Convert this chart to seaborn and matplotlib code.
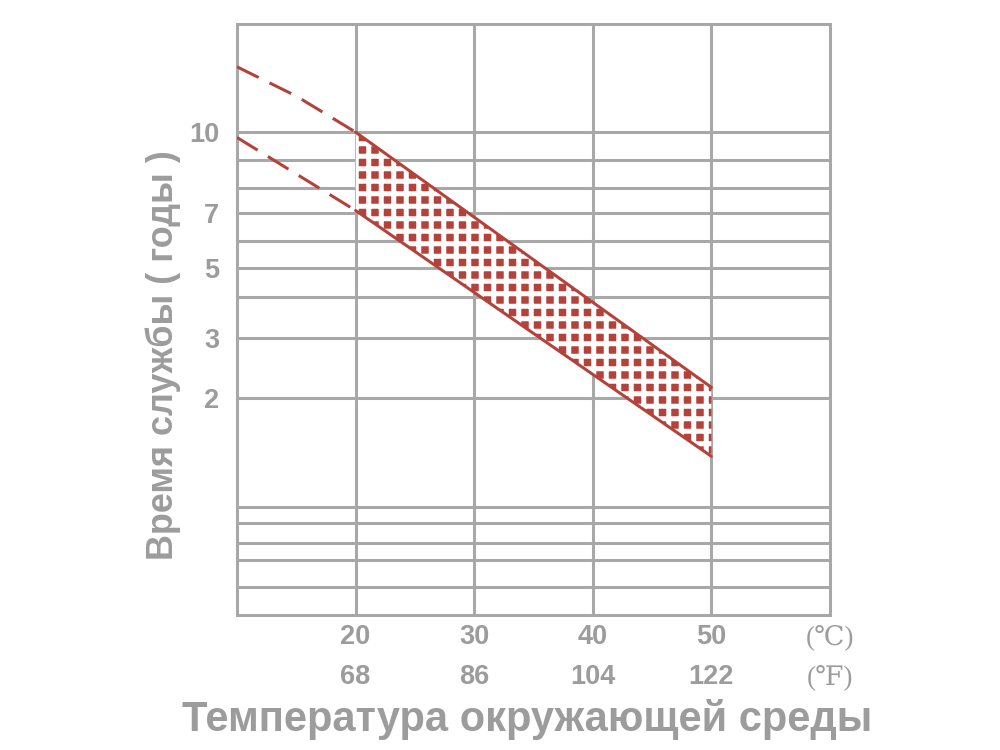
import numpy as np
import pandas as pd
import matplotlib
matplotlib.use("Agg")
import matplotlib.pyplot as plt
import seaborn as sns

# temperature ticks (deg C) and the matching deg F labels
temp_c = [20, 30, 40, 50]
temp_f = [68, 86, 104, 122]

# service life band (years), solid part between 20 and 50 C
band_temp = [20, 50]
band_upper = [10, 2.15]
band_lower = [7.1, 1.38]

# dashed extrapolation below 20 C
dash_upper_temp = [10, 15, 20]
dash_upper = [15.2, 12.6, 10]
dash_lower_temp = [10, 20]
dash_lower = [9.8, 7.1]

# horizontal grid values (years) and the ones that carry a label
grid_years = [0.6, 0.7, 0.8, 0.9, 1, 2, 3, 4, 5, 6, 7, 8, 9, 10]
labelled_years = [2, 3, 5, 7, 10]

# the printed chart uses an uneven, log-like life axis:
# each stop (years) and its fraction of the axis height
scale_years = [0.5, 0.6, 0.7, 0.8, 0.9, 1, 2, 3, 4, 5, 6, 7, 8, 9, 10, 20]
scale_frac = [0, 0.047, 0.093, 0.122, 0.156, 0.183, 0.367, 0.469, 0.538,
              0.587, 0.633, 0.680, 0.722, 0.770, 0.817, 1.0]
log_stops = np.log10(scale_years)


def life_forward(v):
    v = np.clip(np.asarray(v, dtype=float), 1e-6, None)
    return np.interp(np.log10(v), log_stops, scale_frac)


def life_inverse(p):
    return 10 ** np.interp(np.asarray(p, dtype=float), scale_frac, log_stops)


RED = "#b3423a"
GRID = "#a8a8a8"
TEXT = "#9c9c9c"
LW = 2.9

sns.set_theme(style="white")
plt.rcParams["font.family"] = ["Liberation Sans", "DejaVu Sans"]
plt.rcParams["hatch.linewidth"] = 4.8
plt.rcParams["hatch.color"] = "white"

fig = plt.figure(figsize=(1000 / 75, 750 / 75), dpi=75)
ax = fig.add_axes([0.237, 0.18, 0.593, 0.788])

ax.set_yscale("function", functions=(life_forward, life_inverse))
ax.set_xlim(10, 60)
ax.set_ylim(0.5, 20)

# band fill: red squares on white (red fill cut by a white grid hatch)
ax.fill_between(band_temp, band_lower, band_upper, facecolor=RED,
                edgecolor="white", hatch="+", linewidth=0, zorder=2)

band = pd.DataFrame({"temp": band_temp * 2,
                     "life": band_upper + band_lower,
                     "edge": ["upper"] * 2 + ["lower"] * 2})
for edge, d in band.groupby("edge"):
    sns.lineplot(data=d, x="temp", y="life", ax=ax, color=RED,
                 linewidth=LW, zorder=3)

sns.lineplot(x=dash_upper_temp, y=dash_upper, ax=ax, color=RED,
             linewidth=LW, linestyle=(0, (8, 4)), zorder=3)
sns.lineplot(x=dash_lower_temp, y=dash_lower, ax=ax, color=RED,
             linewidth=LW, linestyle=(0, (8, 4)), zorder=3)

# grid and frame
ax.set_axisbelow(True)
ax.set_yticks(grid_years)
ax.set_yticklabels([str(v) if v in labelled_years else "" for v in grid_years])
ax.set_xticks(temp_c + [60])
ax.set_xticklabels([f"{c}\n{f}" for c, f in zip(temp_c, temp_f)] + ["(\u2103)\n(\u2109)"])
ax.yaxis.set_minor_locator(matplotlib.ticker.NullLocator())
ax.grid(True, color=GRID, linewidth=LW)
for s in ax.spines.values():
    s.set_color(GRID)
    s.set_linewidth(LW)

ax.tick_params(axis="both", length=0, colors=TEXT, labelsize=26)
ax.tick_params(axis="y", pad=17)
ax.tick_params(axis="x", pad=9)
for lab in ax.get_xticklabels() + ax.get_yticklabels():
    lab.set_fontweight("bold")
    lab.set_linespacing(1.7)
last = ax.get_xticklabels()[-1]
last.set_fontweight("normal")
last.set_family(["Liberation Serif", "DejaVu Serif"])

ax.set_xlabel("Температура окружающей среды", fontsize=40, fontweight="bold",
              color=TEXT)
ax.xaxis.set_label_coords(0.49, -0.176)
ax.xaxis.label.set_va("center")
ax.set_ylabel("Время службы ( годы )", fontsize=34.5, fontweight="bold",
              color=TEXT)
ax.yaxis.set_label_coords(-0.125, 0.44)
ax.yaxis.label.set_va("center")

fig.savefig("out.png", dpi=75, facecolor="white")
